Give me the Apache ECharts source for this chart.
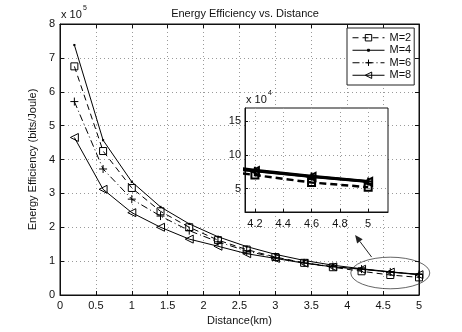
<!DOCTYPE html>
<html>
<head>
<meta charset="utf-8">
<script src="https://cdn.jsdelivr.net/npm/echarts@6/dist/echarts.min.js"></script>
<style>
  html, body { margin: 0; padding: 0; background: #fff; }
  #main { width: 462px; height: 332px; }
</style>
</head>
<body>
<div id="main"></div>
<script>
  // distance (km) and energy efficiency (x 10^5 bits/Joule)
  var distance = [0.2, 0.6, 1.0, 1.4, 1.8, 2.2, 2.6, 3.0, 3.4, 3.8, 4.2, 4.6, 5.0];
  var effM2 = [6.75, 4.25, 3.16, 2.47, 2.0, 1.62, 1.34, 1.12, 0.95, 0.82, 0.70, 0.59, 0.52];
  var effM4 = [7.38, 4.57, 3.34, 2.6, 2.1, 1.72, 1.43, 1.2, 1.02, 0.88, 0.775, 0.685, 0.61];
  var effM6 = [5.71, 3.72, 2.83, 2.33, 1.9, 1.57, 1.3, 1.1, 0.95, 0.84, 0.765, 0.68, 0.605];
  var effM8 = [4.65, 3.12, 2.43, 2.0, 1.65, 1.44, 1.22, 1.08, 0.94, 0.83, 0.76, 0.675, 0.6];
  var seriesNames = ['M=2', 'M=4', 'M=6', 'M=8'];
  var insetXTicks = [4.2, 4.4, 4.6, 4.8, 5];
  var insetYTicks = [5, 10, 15];

  var font = "'Liberation Sans', Arial, sans-serif";
  var dom = document.getElementById('main');
  var myChart = echarts.init(dom, null, { renderer: 'canvas' });

  function pairs(vals, scale) {
    var out = [];
    for (var i = 0; i < distance.length; i++) {
      out.push([distance[i], +(vals[i] * scale).toFixed(4)]);
    }
    return out;
  }

  // the '.' marker: a small dot inside a larger empty box
  var dotPath = 'path://M0,0M10,10M3.5,3.5L6.5,3.5L6.5,6.5L3.5,6.5Z';
  var styles = [
    { data: effM2, symbol: 'rect', size: 7, dash: [6, 4] },
    { data: effM4, symbol: dotPath, size: 7, dash: 'solid' },
    { data: effM6, symbol: 'path://M0,5L10,5M5,0L5,10', size: 8, dash: [7, 3, 1, 3] },
    { data: effM8, symbol: 'path://M0,5L10,0L10,10Z', size: 8, dash: 'solid' }
  ];

  var series = [];
  styles.forEach(function (s, idx) {
    var filled = idx === 1;
    series.push({
      name: seriesNames[idx],
      type: 'line',
      xAxisIndex: 0, yAxisIndex: 0,
      data: pairs(s.data, 1),
      symbol: s.symbol,
      symbolSize: s.size,
      showSymbol: true,
      color: '#000',
      lineStyle: { color: '#000', width: 1, type: s.dash },
      itemStyle: {
        color: filled ? '#000' : 'rgba(0,0,0,0)',
        borderColor: '#000',
        borderWidth: filled ? 0 : 1
      },
      z: 2,
      animation: false
    });
  });
  // zoomed inset, same data in units of 10^4
  styles.forEach(function (s, idx) {
    var filled = idx === 1;
    series.push({
      name: seriesNames[idx] + ' (zoom)',
      type: 'line',
      xAxisIndex: 2, yAxisIndex: 2,
      data: pairs(s.data, 10),
      symbol: s.symbol,
      symbolSize: s.size,
      color: '#000',
      clip: true,
      lineStyle: { color: '#000', width: 2.5, type: idx === 0 ? [7, 4] : 'solid' },
      itemStyle: {
        color: filled ? '#000' : 'rgba(0,0,0,0)',
        borderColor: '#000',
        borderWidth: filled ? 0 : 2
      },
      z: 6,
      animation: false
    });
  });

  var gridLine = { show: true, lineStyle: { color: '#9a9a9a', width: 1, type: [1, 3] } };
  var labelStyle = { color: '#111', fontSize: 11, fontFamily: font };

  var option = {
    animation: false,
    backgroundColor: '#fff',
    title: {
      text: 'Energy Efficiency vs. Distance',
      left: 240, top: 3, textAlign: 'center',
      textStyle: { fontSize: 11, fontWeight: 'normal', color: '#111', fontFamily: font }
    },
    legend: {
      data: seriesNames,
      orient: 'vertical',
      left: 347, top: 28,
      itemWidth: 32, itemHeight: 8, itemGap: 1,
      padding: [4, 3, 4, 5],
      backgroundColor: '#fff',
      borderColor: '#222', borderWidth: 1,
      lineStyle: { width: 1 },
      itemStyle: { borderWidth: 1 },
      textStyle: { fontSize: 11, color: '#111', fontFamily: font, lineHeight: 11.5 },
      z: 10
    },
    grid: [
      { left: 60, right: 43, top: 24, bottom: 37, show: true, borderColor: '#111', borderWidth: 1 },
      { left: 245, right: 74, top: 108, bottom: 120, show: true, borderColor: '#111', borderWidth: 1,
        backgroundColor: '#fff', z: 3 }
    ],
    xAxis: [
      {
        type: 'value', gridIndex: 0, min: 0, max: 5, interval: 0.5,
        name: 'Distance(km)', nameLocation: 'middle', nameGap: 14,
        nameTextStyle: labelStyle,
        axisLine: { show: true, onZero: false, lineStyle: { color: '#111' } },
        axisTick: { show: true, inside: true, length: 4, lineStyle: { color: '#111' } },
        axisLabel: Object.assign({ margin: 5 }, labelStyle),
        splitLine: gridLine
      },
      {
        type: 'value', gridIndex: 0, min: 0, max: 5, interval: 0.5, position: 'top',
        axisLine: { show: true, onZero: false, lineStyle: { color: '#111' } },
        axisTick: { show: true, inside: true, length: 4, lineStyle: { color: '#111' } },
        axisLabel: { show: false }, splitLine: { show: false }
      },
      {
        type: 'value', gridIndex: 1, min: 4.13, max: 5.14, z: 4,
        axisLine: { show: true, onZero: false, lineStyle: { color: '#111' } },
        axisTick: { show: true, inside: true, length: 3, customValues: insetXTicks, lineStyle: { color: '#111' } },
        axisLabel: Object.assign({ margin: 6, customValues: insetXTicks,
          formatter: function (v) { return String(+v.toFixed(1)); } }, labelStyle),
        splitLine: gridLine
      }
    ],
    yAxis: [
      {
        type: 'value', gridIndex: 0, min: 0, max: 8, interval: 1,
        name: 'Energy Efficiency (bits/Joule)', nameLocation: 'middle', nameGap: 12,
        nameTextStyle: labelStyle,
        axisLine: { show: true, onZero: false, lineStyle: { color: '#111' } },
        axisTick: { show: true, inside: true, length: 4, lineStyle: { color: '#111' } },
        axisLabel: Object.assign({ margin: 5 }, labelStyle),
        splitLine: gridLine
      },
      {
        type: 'value', gridIndex: 0, min: 0, max: 8, interval: 1, position: 'right',
        axisLine: { show: true, onZero: false, lineStyle: { color: '#111' } },
        axisTick: { show: true, inside: true, length: 4, lineStyle: { color: '#111' } },
        axisLabel: { show: false }, splitLine: { show: false }
      },
      {
        type: 'value', gridIndex: 1, min: 1.5, max: 17, z: 4,
        axisLine: { show: true, onZero: false, lineStyle: { color: '#111' } },
        axisTick: { show: true, inside: true, length: 3, customValues: insetYTicks, lineStyle: { color: '#111' } },
        axisLabel: Object.assign({ margin: 4, customValues: insetYTicks }, labelStyle),
        splitLine: gridLine
      }
    ],
    series: series
  };

  if (option && typeof option === 'object') {
    myChart.setOption(option, true);

    // annotations: exponents, ellipse around the zoomed region, arrow to inset
    var c = myChart.convertToPixel({ gridIndex: 0 }, [4.6, 0.65]);
    var e = myChart.convertToPixel({ gridIndex: 0 }, [5.15, 0.65]);
    var rx = e[0] - c[0];
    var ry = 15.8;
    var tail = myChart.convertToPixel({ gridIndex: 0 }, [4.34, 1.12]);
    var head = myChart.convertToPixel({ gridIndex: 0 }, [4.11, 1.77]);
    var ang = Math.atan2(head[1] - tail[1], head[0] - tail[0]);
    var hl = 8, hw = 3.5;
    var bx = head[0] - hl * Math.cos(ang), by = head[1] - hl * Math.sin(ang);
    var p1 = [bx + hw * Math.sin(ang), by - hw * Math.cos(ang)];
    var p2 = [bx - hw * Math.sin(ang), by + hw * Math.cos(ang)];

    myChart.setOption({
      graphic: [
        { type: 'text', left: 61, top: 9, style: { text: 'x 10', fontSize: 11, fontFamily: font, fill: '#111' } },
        { type: 'text', left: 83, top: 5, style: { text: '5', fontSize: 7, fontFamily: font, fill: '#111' } },
        { type: 'text', left: 246, top: 94, z: 10, style: { text: 'x 10', fontSize: 11, fontFamily: font, fill: '#111' } },
        { type: 'text', left: 268, top: 90, z: 10, style: { text: '4', fontSize: 7, fontFamily: font, fill: '#111' } },
        {
          type: 'circle', z: 7, silent: true,
          x: c[0], y: c[1], scaleY: ry / rx,
          shape: { cx: 0, cy: 0, r: rx },
          style: { fill: 'none', stroke: '#222', lineWidth: 1, strokeNoScale: true }
        },
        {
          type: 'line', z: 7, silent: true,
          shape: { x1: tail[0], y1: tail[1], x2: bx, y2: by },
          style: { stroke: '#222', lineWidth: 1 }
        },
        {
          type: 'polygon', z: 7, silent: true,
          shape: { points: [head, p1, p2] },
          style: { fill: '#222' }
        }
      ]
    });
    window.addEventListener('resize', function () { myChart.resize(); });
  }
</script>
</body>
</html>
